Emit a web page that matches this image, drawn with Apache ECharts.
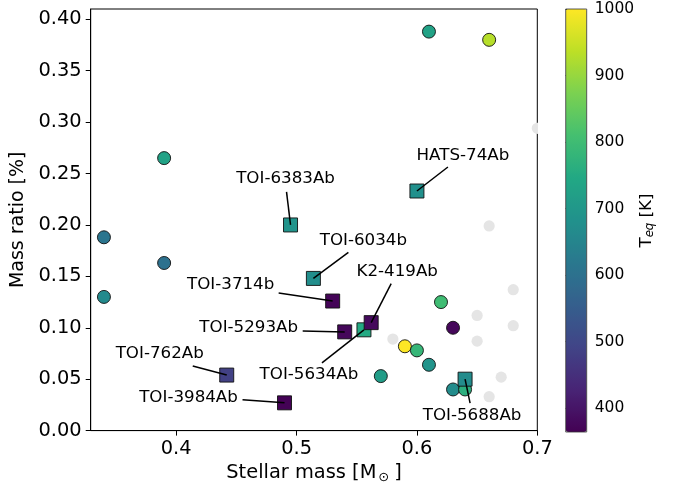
<!DOCTYPE html>
<html>
<head>
<meta charset="utf-8">
<script src="https://cdn.jsdelivr.net/npm/echarts@6/dist/echarts.min.js"></script>
<style>
  html, body { margin: 0; padding: 0; background: #fff; }
  #chart { width: 680px; height: 489px; }
</style>
</head>
<body>
<div id="chart"></div>
<script>
// Comparison sample without an equilibrium temperature (drawn in light grey)
const fieldMass  = [0.70, 0.66, 0.68, 0.58, 0.65, 0.68, 0.65, 0.67, 0.66];
const fieldRatio = [0.294, 0.199, 0.137, 0.089, 0.112, 0.102, 0.087, 0.052, 0.033];

// Known transiting giants around M dwarfs, coloured by T_eq
const knownMass  = [0.61, 0.66, 0.39, 0.34, 0.39, 0.34, 0.62, 0.63, 0.59, 0.60, 0.61, 0.57, 0.63, 0.64];
const knownRatio = [0.388, 0.380, 0.265, 0.188, 0.163, 0.130, 0.125, 0.100, 0.082, 0.078, 0.064, 0.053, 0.040, 0.040];
const knownTeq   = [730, 930, 730, 610, 600, 665, 800, 375, 1000, 785, 690, 715, 670, 765];

// Named planets (squares)
const planetNames = ['HATS-74Ab', 'TOI-6383Ab', 'TOI-6034b', 'TOI-3714b', 'TOI-5293Ab',
                     'TOI-5634Ab', 'K2-419Ab', 'TOI-762Ab', 'TOI-3984Ab', 'TOI-5688Ab'];
const planetMass  = [0.600, 0.495, 0.514, 0.530, 0.540, 0.556, 0.562, 0.442, 0.490, 0.640];
const planetRatio = [0.233, 0.200, 0.148, 0.126, 0.096, 0.098, 0.105, 0.054, 0.027, 0.050];
const planetTeq   = [680, 690, 675, 370, 375, 750, 380, 485, 365, 670];

// Tick values
const massTicks  = [0.4, 0.5, 0.6, 0.7];
const ratioTicks = [0.00, 0.05, 0.10, 0.15, 0.20, 0.25, 0.30, 0.35, 0.40];
const teqTicks   = [400, 500, 600, 700, 800, 900, 1000];

// Label placement, in pixels relative to each named planet: text centre and leader-line start
const labelOffset = [[46, -35], [-5, -46], [50, -38], [-102, -16], [-96, -4],
                     [-55, 45], [26, -51], [-67, -21], [-96, -5], [7, 36]];
const leaderStart = [[31, -24], [-4, -33], [35, -26], [-54, -8], [-42, -1],
                     [-42, 33], [20, -39], [-34, -9], [-42, -3], [5, 24]];

const viridis = ['#440154', '#482475', '#414487', '#355f8d', '#2a788e', '#21918c',
                 '#22a884', '#44bf70', '#7ad151', '#bddf26', '#fde725'];

const FONT = '"DejaVu Sans", "Liberation Sans", sans-serif';

const chart = echarts.init(document.getElementById('chart'), null, { renderer: 'canvas' });

const fieldData  = fieldMass.map((m, i) => [m, fieldRatio[i]]);
const knownData  = knownMass.map((m, i) => [m, knownRatio[i], knownTeq[i]]);
const planetData = planetMass.map((m, i) => [m, planetRatio[i], planetTeq[i]]);

chart.setOption({
  animation: false,
  backgroundColor: '#fff',
  grid: [
    { left: 90.7, top: 9, width: 446.6, height: 423, show: true,
      borderColor: '#000', borderWidth: 1, backgroundColor: 'transparent' },
    { left: 565.7, top: 9, width: 21, height: 423, show: true, z: 10,
      borderColor: '#333', borderWidth: 0.8, backgroundColor: 'transparent' }
  ],
  xAxis: [
    {
      gridIndex: 0, type: 'value', min: 0.329, max: 0.70,
      name: 'Stellar mass [M{sub|⊙}\u2009]', nameLocation: 'middle', nameGap: 30,
      nameTextStyle: {
        fontFamily: FONT, fontSize: 19.4, color: '#000',
        rich: { sub: { fontFamily: FONT, fontSize: 13, color: '#000', padding: [9, 1, 0, 2] } }
      },
      splitLine: { show: false },
      axisLine: { show: true, onZero: false, lineStyle: { color: '#000', width: 1 } },
      axisTick: { show: true, customValues: massTicks, length: 5, lineStyle: { color: '#000', width: 1 } },
      axisLabel: { customValues: massTicks, formatter: v => v.toFixed(1), margin: 9,
                   fontFamily: FONT, fontSize: 19.4, color: '#000' }
    },
    { gridIndex: 1, type: 'value', min: 0, max: 1, show: false }
  ],
  yAxis: [
    {
      gridIndex: 0, type: 'value', min: 0, max: 0.41,
      name: 'Mass ratio [%]', nameLocation: 'middle', nameGap: 54, nameRotate: 90,
      nameTextStyle: { fontFamily: FONT, fontSize: 19, color: '#000' },
      splitLine: { show: false },
      axisLine: { show: true, onZero: false, lineStyle: { color: '#000', width: 1 } },
      axisTick: { show: true, customValues: ratioTicks, length: 5, lineStyle: { color: '#000', width: 1 } },
      axisLabel: { customValues: ratioTicks, formatter: v => v.toFixed(2), margin: 9,
                   fontFamily: FONT, fontSize: 19.4, color: '#000' }
    },
    {
      gridIndex: 1, type: 'value', min: 364, max: 1000, position: 'right',
      name: 'T{sub|eq} [K]', nameLocation: 'middle', nameGap: 42, nameRotate: 90,
      nameTextStyle: {
        fontFamily: FONT, fontSize: 16.7, color: '#000',
        rich: { sub: { fontFamily: FONT, fontSize: 11.7, fontStyle: 'italic', color: '#000', padding: [7, 0, 0, 0] } }
      },
      splitLine: { show: false },
      axisLine: { show: false },
      axisTick: { show: true, customValues: teqTicks, length: 5, lineStyle: { color: '#000', width: 1 } },
      axisLabel: { customValues: teqTicks, formatter: v => String(v), margin: 8,
                   fontFamily: FONT, fontSize: 15.5, color: '#000' }
    }
  ],
  visualMap: {
    type: 'continuous', min: 364, max: 1000, dimension: 2, seriesIndex: [1, 2],
    inRange: { color: viridis },
    show: true, calculable: false, hoverLink: false, realtime: false,
    orient: 'vertical', left: 565.7, top: 9, itemWidth: 21, itemHeight: 423,
    padding: 0, text: null, itemGap: 0
  },
  series: [
    {
      // light grey comparison points, clipped to the plot frame
      type: 'custom', xAxisIndex: 0, yAxisIndex: 0, data: fieldData, clip: true, z: 1,
      renderItem: (params, api) => {
        const p = api.coord([api.value(0), api.value(1)]);
        return { type: 'circle', shape: { cx: p[0], cy: p[1], r: 5.6 }, style: { fill: '#e5e5e5' } };
      }
    },
    {
      type: 'scatter', xAxisIndex: 0, yAxisIndex: 0, data: knownData, z: 2,
      symbol: 'circle', symbolSize: 13,
      itemStyle: { borderColor: '#111', borderWidth: 0.9, opacity: 1 }
    },
    {
      type: 'scatter', xAxisIndex: 0, yAxisIndex: 0, data: planetData, z: 3,
      symbol: 'rect', symbolSize: 14,
      itemStyle: { borderColor: '#111', borderWidth: 0.9, opacity: 1 }
    },
    {
      // name labels with leader lines
      type: 'custom', xAxisIndex: 0, yAxisIndex: 0, data: planetData, clip: false, z: 4,
      renderItem: (params, api) => {
        const i = params.dataIndex;
        const p = api.coord([api.value(0), api.value(1)]);
        const t = labelOffset[i], s = leaderStart[i];
        return {
          type: 'group',
          children: [
            { type: 'line', shape: { x1: p[0] + s[0], y1: p[1] + s[1], x2: p[0], y2: p[1] },
              style: { stroke: '#000', lineWidth: 1.5 } },
            { type: 'text', x: p[0] + t[0], y: p[1] + t[1],
              style: { text: planetNames[i], font: '16.7px ' + FONT, fill: '#000',
                       align: 'center', verticalAlign: 'middle' } }
          ]
        };
      }
    }
  ]
});
</script>
</body>
</html>
